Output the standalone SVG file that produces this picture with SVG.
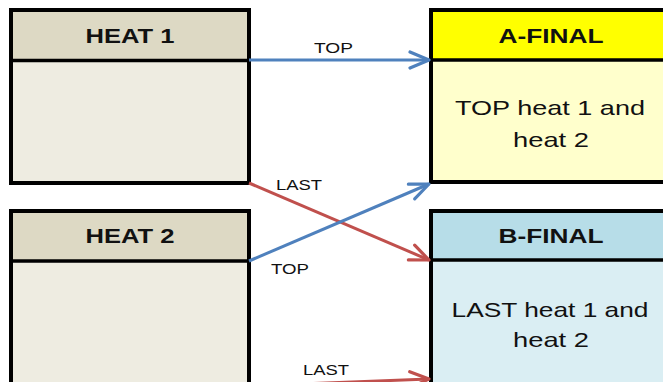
<svg xmlns="http://www.w3.org/2000/svg" width="663" height="382" viewBox="0 0 663 382">
<style>
.box{stroke:#000;stroke-width:4}
.div{stroke:#000;stroke-width:3.5}
.hd{font-family:"Liberation Sans",Arial,sans-serif;font-weight:bold;font-size:21px;fill:#111;text-anchor:middle}
.bd{font-family:"Liberation Sans",Arial,sans-serif;font-size:21px;fill:#111;text-anchor:middle}
.lb{font-family:"Liberation Sans",Arial,sans-serif;font-size:14px;fill:#111}
.blue{stroke:#4F81BD;stroke-width:3;fill:none}
.red{stroke:#C0504D;stroke-width:3;fill:none}
</style>
<defs>
<marker id="ab" markerUnits="userSpaceOnUse" markerWidth="26" markerHeight="22" refX="21" refY="10" orient="auto">
<path d="M2,2 L21,10 L2,18" fill="none" stroke="#4F81BD" stroke-width="3.2" stroke-linecap="round" stroke-linejoin="round"/>
</marker>
<marker id="ar" markerUnits="userSpaceOnUse" markerWidth="26" markerHeight="22" refX="21" refY="10" orient="auto">
<path d="M2,2 L21,10 L2,18" fill="none" stroke="#C0504D" stroke-width="3.2" stroke-linecap="round" stroke-linejoin="round"/>
</marker>
</defs>
<rect width="663" height="382" fill="#fff"/>
<g id="heat1">
<rect class="box" x="11" y="10" width="238" height="173" fill="#EEECE1"/>
<rect x="13" y="12" width="234" height="48" fill="#DDD9C4"/>
<line class="div" x1="11" y1="60.5" x2="249" y2="60.5"/>
<text class="hd" x="130" y="43" textLength="89" lengthAdjust="spacingAndGlyphs">HEAT 1</text>
</g>
<g id="heat2">
<rect class="box" x="11" y="211" width="238" height="190" fill="#EEECE1"/>
<rect x="13" y="213" width="234" height="48" fill="#DDD9C4"/>
<line class="div" x1="11" y1="261" x2="249" y2="261"/>
<text class="hd" x="130" y="243" textLength="89" lengthAdjust="spacingAndGlyphs">HEAT 2</text>
</g>
<g id="afinal">
<rect class="box" x="431" y="10" width="250" height="172" fill="#FFFFCC"/>
<rect x="433" y="12" width="240" height="47" fill="#FFFF00"/>
<line class="div" x1="431" y1="60" x2="681" y2="60"/>
<text class="hd" x="551" y="43" textLength="105" lengthAdjust="spacingAndGlyphs">A-FINAL</text>
<text class="bd" x="550" y="115" textLength="190" lengthAdjust="spacingAndGlyphs">TOP heat 1 and</text>
<text class="bd" x="551" y="147" textLength="76" lengthAdjust="spacingAndGlyphs">heat 2</text>
</g>
<g id="bfinal">
<rect class="box" x="431" y="211" width="250" height="190" fill="#DAEEF3"/>
<rect x="433" y="213" width="240" height="46" fill="#B7DDE8"/>
<line class="div" x1="431" y1="260" x2="681" y2="260"/>
<text class="hd" x="551" y="243" textLength="105" lengthAdjust="spacingAndGlyphs">B-FINAL</text>
<text class="bd" x="550" y="317" textLength="197" lengthAdjust="spacingAndGlyphs">LAST heat 1 and</text>
<text class="bd" x="551" y="347" textLength="76" lengthAdjust="spacingAndGlyphs">heat 2</text>
</g>
<g id="connectors">
<line class="blue" x1="249" y1="60" x2="429" y2="60" marker-end="url(#ab)"/>
<line class="red" x1="249" y1="183" x2="429" y2="260" marker-end="url(#ar)"/>
<line class="blue" x1="249" y1="261" x2="429" y2="184" marker-end="url(#ab)"/>
<line class="red" x1="249" y1="386" x2="429" y2="379" marker-end="url(#ar)"/>
<text class="lb" x="314" y="53" textLength="39" lengthAdjust="spacingAndGlyphs">TOP</text>
<text class="lb" x="276" y="190" textLength="46" lengthAdjust="spacingAndGlyphs">LAST</text>
<text class="lb" x="271" y="274" textLength="38" lengthAdjust="spacingAndGlyphs">TOP</text>
<text class="lb" x="303" y="375" textLength="46" lengthAdjust="spacingAndGlyphs">LAST</text>
</g>
</svg>
